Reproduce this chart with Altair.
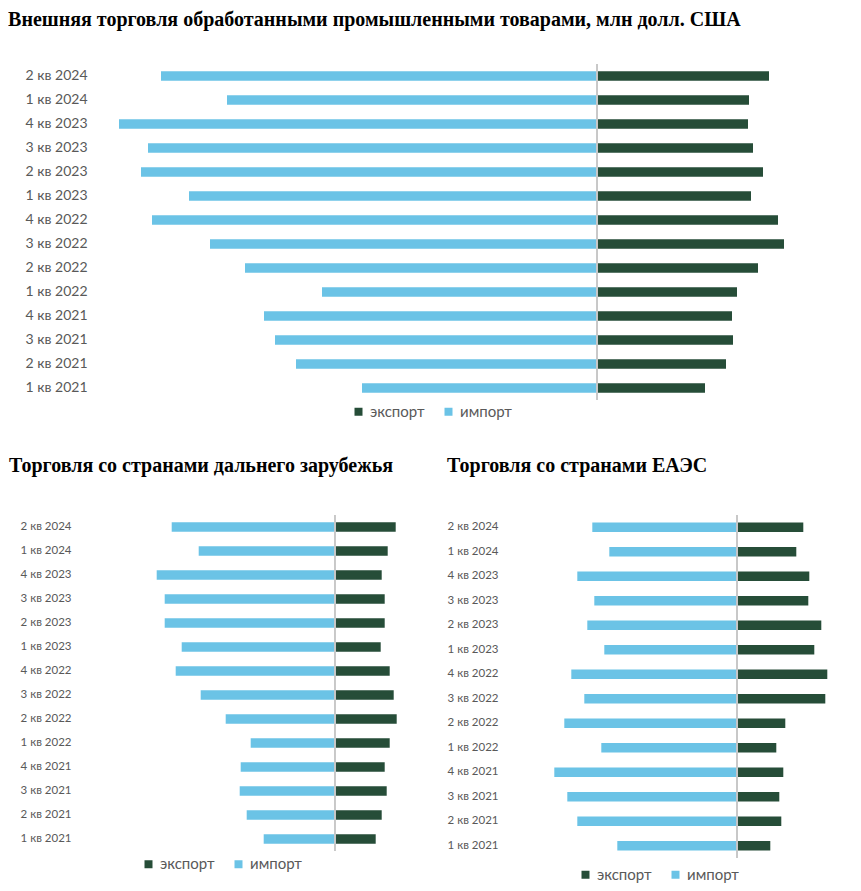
import altair as alt
import pandas as pd

quarters = ["2 кв 2024", "1 кв 2024", "4 кв 2023", "3 кв 2023", "2 кв 2023", "1 кв 2023",
            "4 кв 2022", "3 кв 2022", "2 кв 2022", "1 кв 2022", "4 кв 2021", "3 кв 2021",
            "2 кв 2021", "1 кв 2021"]

series_names = ["экспорт", "импорт"]

total_export = [172, 152, 151, 156, 166, 154, 181, 187, 161, 140, 135, 136, 129, 108]
total_import = [436, 370, 478, 449, 456, 408, 445, 387, 352, 275, 333, 322, 301, 235]

far_export = [61, 53, 47, 50, 50, 46, 55, 59, 62, 55, 50, 52, 47, 41]
far_import = [163, 136, 178, 170, 170, 153, 159, 134, 109, 84, 94, 95, 88, 71]

eaeu_export = [66, 59, 72, 71, 84, 77, 90, 88, 48, 39, 46, 42, 44, 33]
eaeu_import = [145, 128, 160, 143, 150, 133, 166, 153, 173, 136, 183, 170, 160, 120]

EXPORT_COLOR = "#264d38"
IMPORT_COLOR = "#6bc3e6"
LINE_COLOR = "#c8c8c8"
LABEL_COLOR = "#595959"


def make_df(exp, imp):
    rows = []
    for q, e, i in zip(quarters, exp, imp):
        rows.append({"q": q, "series": series_names[0], "v": e})
        rows.append({"q": q, "series": series_names[1], "v": -i})
    return pd.DataFrame(rows)


def panel(title, exp, imp, width, height, domain, label_size, extent, label_pad, axis_offset,
          pad_inner, title_offset, title_dx, title_dy, legend_x, legend_y):
    df = make_df(exp, imp)
    bars = alt.Chart().mark_bar().encode(
        y=alt.Y("q:N", sort=quarters,
                scale=alt.Scale(paddingInner=pad_inner, paddingOuter=pad_inner / 2),
                axis=alt.Axis(title=None, domain=False, ticks=False, labelFontSize=label_size,
                              labelColor=LABEL_COLOR, labelFont="Lato", labelPadding=label_pad,
                              offset=axis_offset, minExtent=extent, maxExtent=extent)),
        x=alt.X("v:Q", stack=None, scale=alt.Scale(domain=domain, nice=False, zero=False),
                axis=None),
        color=alt.Color("series:N",
                        scale=alt.Scale(domain=series_names, range=[EXPORT_COLOR, IMPORT_COLOR]),
                        legend=alt.Legend(title=None, orient="none", direction="horizontal",
                                          legendX=legend_x, legendY=legend_y,
                                          symbolType="square", symbolSize=64, symbolStrokeWidth=0,
                                          labelFont="Lato", labelFontSize=15,
                                          labelColor=LABEL_COLOR, labelOffset=4,
                                          columnPadding=16, padding=0)),
    )
    rule = alt.Chart().mark_rule(color=LINE_COLOR, strokeWidth=1).encode(x=alt.datum(0))
    return alt.layer(bars, rule, data=df).properties(
        width=width, height=height,
        title=alt.TitleParams(title, anchor="start", font="Liberation Serif", fontWeight="bold",
                              fontSize=20, color="#000000", offset=title_offset,
                              dx=title_dx, dy=title_dy),
    )


top = panel("Внешняя торговля обработанными промышленными товарами, млн долл. США",
            total_export, total_import, 756, 336, [-516, 240], 14, 72, 14, -20,
            0.61, 25.5, -17, -8, 270, 340)
left = panel("Торговля со странами дальнего зарубежья",
             far_export, far_import, 340, 336, [-253.7, 86.3], 11.5, 72, 10, 0,
             0.61, 39.5, 0, 1, 60, 341.5)
right = panel("Торговля со странами ЕАЭС",
              eaeu_export, eaeu_import, 344, 343, [-229.3, 114.7], 11.5, 60, 10, 0,
              0.62, 39.5, 0, 1, 70, 352)

bottom = alt.hconcat(left, right, spacing=26).resolve_scale(
    x="independent", y="independent", color="independent").resolve_legend(color="independent")

chart = alt.vconcat(top, bottom, spacing=36).resolve_scale(
    x="independent", y="independent", color="independent").resolve_legend(
    color="independent").properties(
    padding={"top": 2, "left": 0, "right": 0, "bottom": 0}).configure_view(stroke=None)

chart.save("out.html", embed_options={"renderer": "svg", "actions": False})
